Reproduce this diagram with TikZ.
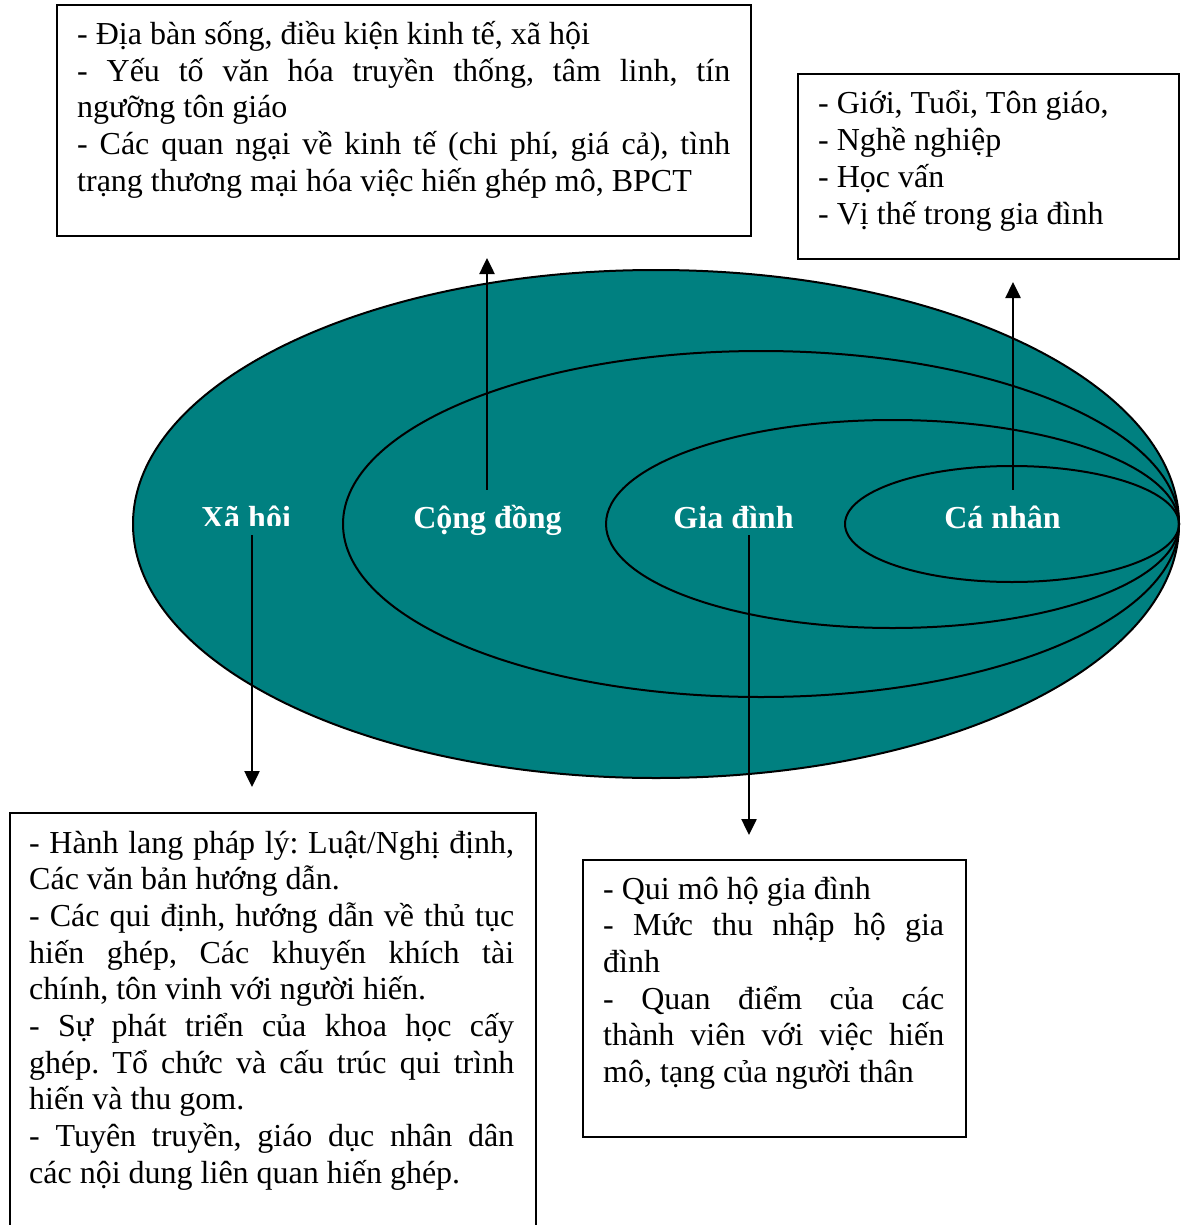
\documentclass[tikz,border=0pt]{standalone}
\usepackage{fontspec}
\setmainfont{Liberation Serif}
\usetikzlibrary{arrows.meta}
\definecolor{layerfill}{RGB}{0,128,128}
\hyphenpenalty=10000
\exhyphenpenalty=10000
\frenchspacing

\begin{document}
\begin{tikzpicture}[x=1pt,y=1pt,
  ring/.style={draw=black, line width=2pt},
  infobox/.style={draw=black, line width=2pt, rectangle, inner sep=0pt, anchor=north west},
  infotext/.style={inner sep=0pt, anchor=base west, align=justify,
    font=\fontsize{32}{36.7}\selectfont},
  layer/.style={inner sep=0pt, anchor=base, text=white, text height=22pt, text depth=7pt,
    font=\fontsize{32}{36.7}\selectfont\bfseries},
  arr/.style={line width=2.5pt, -{Triangle[length=16pt,width=15pt]}}]

\path[use as bounding box, clip] (0,0) rectangle (1180,-1225);

% nested layers, all touching at the right-hand side
\draw[ring, fill=layerfill] (656,-524) ellipse [x radius=523, y radius=254];
\draw[ring] (761,-524) ellipse [x radius=418, y radius=173];
\draw[ring] (892.5,-524) ellipse [x radius=286.5, y radius=104];
\draw[ring] (1012,-524) ellipse [x radius=167, y radius=58];

% layer labels
\begin{scope}
  \clip (150,-470) rectangle (350,-525.5);
  \node[layer] (xahoi) at (246,-528) {Xã hội};
\end{scope}
\node[layer] (congdong) at (487.5,-528) {Cộng đồng};
\node[layer] (giadinh) at (733.5,-528) {Gia đình};
\node[layer] (canhan) at (1002.5,-528) {Cá nhân};

% factor boxes
\node[infobox, minimum width=694pt, minimum height=231pt] (boxcd) at (56,-4) {};
\node[infotext, text width=653pt] (txtcd) at (77,-44.5) {%
- Địa bàn sống, điều kiện kinh tế, xã hội\par
- Yếu tố văn hóa truyền thống, tâm linh, tín\linebreak ngưỡng tôn giáo\par
- Các quan ngại về kinh tế (chi phí, giá cả), tình\linebreak trạng thương mại hóa việc hiến ghép mô, BPCT};

\node[infobox, minimum width=381pt, minimum height=185pt] (boxcn) at (797,-73) {};
\node[infotext, text width=340pt] (txtcn) at (818,-114) {%
- Giới, Tuổi, Tôn giáo,\par
- Nghề nghiệp\par
- Học vấn\par
- Vị thế trong gia đình};

\node[infobox, minimum width=526pt, minimum height=440pt] (boxxh) at (9,-812) {};
\node[infotext, text width=485pt] (txtxh) at (29,-853) {%
- Hành lang pháp lý: Luật/Nghị định,\linebreak Các văn bản hướng dẫn.\par
- Các qui định, hướng dẫn về thủ tục\linebreak hiến ghép, Các khuyến khích tài\linebreak chính, tôn vinh với người hiến.\par
- Sự phát triển của khoa học cấy\linebreak ghép. Tổ chức và cấu trúc qui trình\linebreak hiến và thu gom.\par
- Tuyên truyền, giáo dục nhân dân\linebreak các nội dung liên quan hiến ghép.};

\node[infobox, minimum width=383pt, minimum height=277pt] (boxgd) at (582,-859) {};
\node[infotext, text width=341pt] (txtgd) at (603,-899) {%
- Qui mô hộ gia đình\par
- Mức thu nhập hộ gia\linebreak đình\par
- Quan điểm của các\linebreak thành viên với việc hiến\linebreak mô, tạng của người thân};

% arrows from the layers to their factors
\coordinate (tipcd) at (487,-258);
\coordinate (tipcn) at (1013,-282);
\coordinate (tipxh) at (252,-787);
\coordinate (tipgd) at (749,-835);
\draw[arr, shorten <=16pt] (congdong.north -| tipcd) -- (tipcd);
\draw[arr, shorten <=16pt] (canhan.north -| tipcn) -- (tipcn);
\draw[arr] (xahoi.south -| tipxh) -- (tipxh);
\draw[arr] (giadinh.south -| tipgd) -- (tipgd);
\end{tikzpicture}
\end{document}
